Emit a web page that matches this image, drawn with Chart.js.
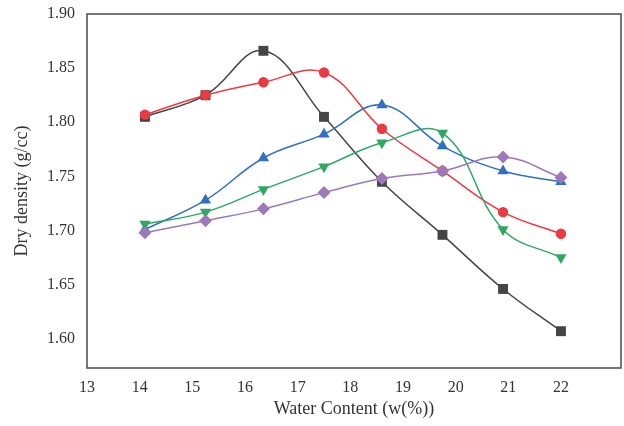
<!DOCTYPE html>
<html>
<head>
<meta charset="utf-8">
<script src="https://cdn.jsdelivr.net/npm/chart.js@4.4.1/dist/chart.umd.min.js"></script>
<style>
  html, body { margin: 0; padding: 0; background: #fff; }
  #wrap { width: 624px; height: 426px; }
</style>
</head>
<body>
<div id="wrap"><canvas id="densityChart"></canvas></div>
<script>
// water content (%) of each compaction point
const waterContent = [14.1, 15.25, 16.35, 17.5, 18.6, 19.75, 20.9, 22.0];

// dry density (g/cc) for each mix
const mixA = [1.805, 1.825, 1.866, 1.805, 1.745, 1.696, 1.646, 1.607];
const mixB = [1.807, 1.825, 1.837, 1.846, 1.794, 1.755, 1.717, 1.697];
const mixC = [1.701, 1.728, 1.767, 1.789, 1.816, 1.778, 1.755, 1.745];
const mixD = [1.706, 1.717, 1.738, 1.759, 1.781, 1.790, 1.701, 1.675];
const mixE = [1.698, 1.709, 1.720, 1.735, 1.748, 1.755, 1.768, 1.749];

const xTicks = [13, 14, 15, 16, 17, 18, 19, 20, 21, 22];
const yTicks = [1.60, 1.65, 1.70, 1.75, 1.80, 1.85, 1.90];

const toPoints = (ys) => ys.map((y, i) => ({ x: waterContent[i], y: y }));

const serif = "'Liberation Serif', 'DejaVu Serif', serif";
const textColor = '#333';

// frame around the plot area
const plotFrame = {
    id: 'plotFrame',
    afterDatasetsDraw(chart) {
        const { ctx, chartArea: a } = chart;
        ctx.save();
        ctx.strokeStyle = '#4a4a4a';
        ctx.lineWidth = 1.5;
        ctx.strokeRect(a.left, a.top, a.right - a.left, a.bottom - a.top);
        ctx.restore();
    }
};

// keep the end labels from pushing the plot area inwards
const noEdgePadding = (scale) => {
    scale.paddingTop = 0;
    scale.paddingBottom = 0;
    scale.paddingLeft = 0;
    scale.paddingRight = 0;
};

const series = (data, color, style, radius, rotation, order) => ({
    data: toPoints(data),
    borderColor: color,
    backgroundColor: color,
    borderWidth: 1.5,
    pointStyle: style,
    pointRadius: radius,
    pointHoverRadius: radius,
    pointRotation: rotation,
    pointBorderWidth: 0,
    tension: 0.4,
    fill: false,
    order: order
});

new Chart(document.getElementById('densityChart').getContext('2d'), {
    type: 'line',
    data: {
        datasets: [
            series(mixA, '#454545', 'rect', 7, 0, 5),
            series(mixB, '#ea3a42', 'circle', 5.2, 0, 4),
            series(mixC, '#3070bd', 'triangle', 6.5, 0, 3),
            series(mixD, '#2fa862', 'triangle', 6.5, 180, 2),
            series(mixE, '#9c79b8', 'rectRot', 6.5, 0, 1)
        ]
    },
    options: {
        responsive: true,
        maintainAspectRatio: false,
        animation: false,
        layout: {
            autoPadding: false,
            padding: { top: 14, right: 3, left: 0, bottom: 0 }
        },
        plugins: {
            legend: { display: false },
            tooltip: { enabled: false }
        },
        scales: {
            x: {
                type: 'linear',
                min: 13,
                max: 23.14,
                afterBuildTicks: (scale) => {
                    scale.ticks = xTicks.map(v => ({ value: v }));
                },
                afterFit: (scale) => {
                    scale.height = 58;
                    noEdgePadding(scale);
                },
                grid: { display: false, drawTicks: false },
                border: { display: false },
                ticks: {
                    padding: 10,
                    color: textColor,
                    font: { family: serif, size: 16 },
                    callback: (v) => String(v)
                },
                title: {
                    display: true,
                    text: 'Water Content (w(%))',
                    color: textColor,
                    font: { family: serif, size: 18 },
                    padding: { top: 0, bottom: 6 }
                }
            },
            y: {
                min: 1.573,
                max: 1.90,
                afterBuildTicks: (scale) => {
                    scale.ticks = yTicks.map(v => ({ value: v }));
                },
                afterFit: (scale) => {
                    scale.width = 87;
                    noEdgePadding(scale);
                },
                grid: { display: false, drawTicks: false },
                border: { display: false },
                ticks: {
                    padding: 12,
                    color: textColor,
                    font: { family: serif, size: 16 },
                    callback: (v) => v.toFixed(2)
                },
                title: {
                    display: true,
                    text: 'Dry density (g/cc)',
                    color: textColor,
                    font: { family: serif, size: 18 },
                    padding: { top: 11, bottom: 0 }
                }
            }
        }
    },
    plugins: [plotFrame]
});
</script>
</body>
</html>
